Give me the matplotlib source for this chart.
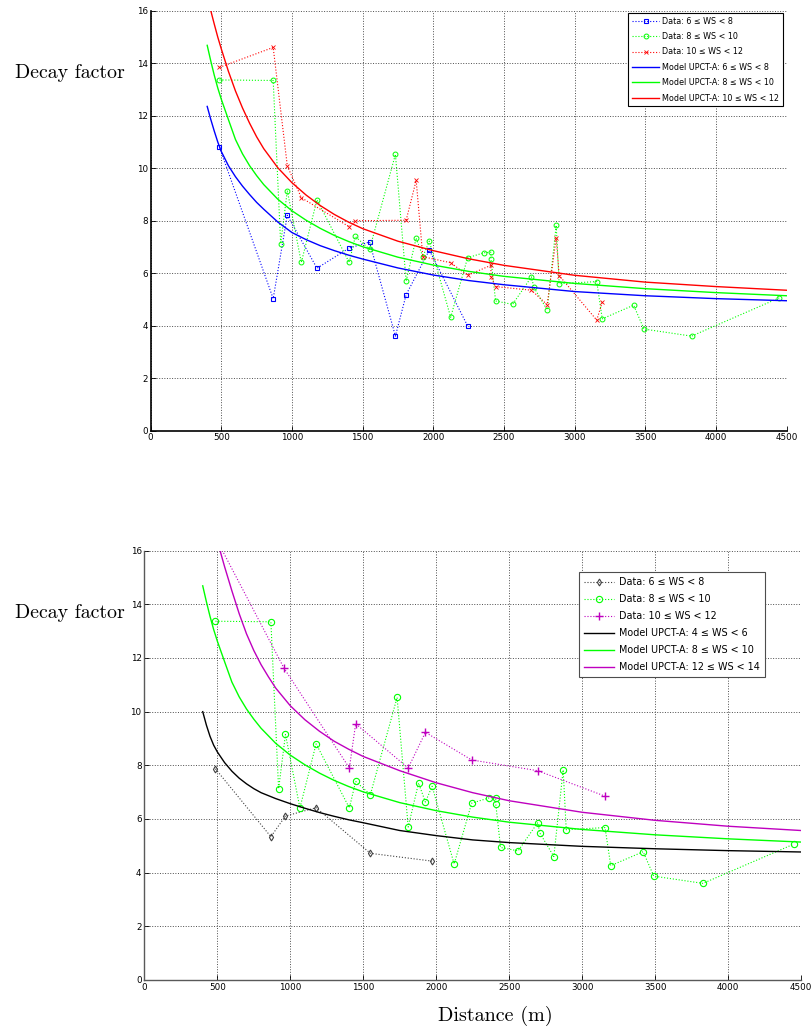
import matplotlib
matplotlib.use("Agg")
import matplotlib.pyplot as plt

# measured decay factors at each station distance (m)
dist_ws6 = [487, 867, 967, 1177, 1405, 1549, 1732, 1808, 1972, 2243]
decay_ws6 = [10.8, 5.03, 8.21, 6.19, 6.96, 7.19, 3.6, 5.18, 6.88, 3.99]

dist_ws8 = [487, 867, 920, 967, 1066, 1177, 1405, 1448, 1549, 1732, 1808, 1879, 1926,
            1972, 2123, 2243, 2359, 2408, 2408, 2441, 2561, 2695, 2712, 2806, 2870,
            2891, 3157, 3196, 3418, 3491, 3828, 4449]
decay_ws8 = [13.37, 13.35, 7.12, 9.15, 6.41, 8.8, 6.41, 7.4, 6.91, 10.53, 5.7, 7.34, 6.63,
             7.22, 4.32, 6.59, 6.78, 6.8, 6.56, 4.94, 4.81, 5.86, 5.46, 4.6, 7.83,
             5.6, 5.68, 4.26, 4.78, 3.87, 3.6, 5.06]

dist_ws10 = [487, 867, 967, 1066, 1405, 1448, 1808, 1879, 1926, 2123, 2243, 2408, 2408,
             2441, 2695, 2806, 2870, 2891, 3157, 3196]
decay_ws10 = [13.85, 14.61, 10.09, 8.88, 7.77, 8.0, 8.02, 9.54, 6.63, 6.4, 5.92, 6.3, 5.86,
              5.49, 5.35, 4.8, 7.35, 5.91, 4.21, 4.9]

# second panel data sets
dist_ws6_b = [487, 867, 967, 1177, 1549, 1972]
decay_ws6_b = [7.87, 5.34, 6.11, 6.42, 4.72, 4.43]

dist_ws10_b = [487, 957, 1405, 1448, 1808, 1926, 2243, 2695, 3157]
decay_ws10_b = [16.5, 11.62, 7.9, 9.55, 7.9, 9.23, 8.2, 7.8, 6.85]

# model UPCT-A curves
model_x = [400, 425, 450, 475, 500, 550, 600, 650, 700, 750, 800, 900, 1000, 1100, 1200,
           1300, 1400, 1500, 1750, 2000, 2250, 2500, 3000, 3500, 4000, 4500]
model_ws6 = [12.36, 11.87, 11.42, 11.0, 10.64, 10.1, 9.68, 9.32, 9.0, 8.7, 8.44, 7.95, 7.55,
             7.28, 7.05, 6.86, 6.69, 6.54, 6.2, 5.93, 5.72, 5.56, 5.3, 5.14, 5.03, 4.95]
model_ws8 = [14.69, 14.1, 13.55, 13.06, 12.63, 11.86, 11.1, 10.55, 10.1, 9.72, 9.38, 8.82,
             8.38, 8.02, 7.71, 7.44, 7.21, 7.01, 6.61, 6.31, 6.07, 5.88, 5.61, 5.41, 5.26, 5.14]
model_ws10 = [16.55, 16.02, 15.5, 15.0, 14.55, 13.7, 12.95, 12.3, 11.72, 11.2, 10.75, 10.02,
              9.45, 8.98, 8.58, 8.24, 7.95, 7.7, 7.22, 6.86, 6.55, 6.3, 5.92, 5.66, 5.49, 5.35]
model_ws4 = [10.0, 9.5, 9.08, 8.75, 8.5, 8.1, 7.78, 7.52, 7.31, 7.13, 6.98, 6.76, 6.57,
             6.4, 6.24, 6.1, 5.97, 5.86, 5.57, 5.38, 5.22, 5.12, 4.98, 4.89, 4.82, 4.77]

model_x_ws12 = [480, 500, 525, 550, 575, 600, 650, 700, 750, 800, 850, 900, 1000, 1100,
                1200, 1300, 1400, 1500, 1750, 2000, 2250, 2500, 3000, 3500, 4000, 4500]
model_ws12 = [16.8, 16.4, 15.88, 15.4, 14.95, 14.5, 13.65, 12.9, 12.28, 11.75, 11.3, 10.88,
              10.22, 9.7, 9.27, 8.9, 8.6, 8.33, 7.8, 7.35, 6.98, 6.68, 6.25, 5.95, 5.73, 5.57]

x_ticks = [0, 500, 1000, 1500, 2000, 2500, 3000, 3500, 4000, 4500]
y_ticks = [0, 2, 4, 6, 8, 10, 12, 14, 16]

labels_top = ["Data: 6 \u2264 WS < 8", "Data: 8 \u2264 WS < 10", "Data: 10 \u2264 WS < 12",
              "Model UPCT-A: 6 \u2264 WS < 8", "Model UPCT-A: 8 \u2264 WS < 10",
              "Model UPCT-A: 10 \u2264 WS < 12"]
labels_bottom = ["Data: 6 \u2264 WS < 8", "Data: 8 \u2264 WS < 10", "Data: 10 \u2264 WS < 12",
                 "Model UPCT-A: 4 \u2264 WS < 6", "Model UPCT-A: 8 \u2264 WS < 10",
                 "Model UPCT-A: 12 \u2264 WS < 14"]

GREEN = (0, 1, 0)


def style_axes(ax, spine_color, spine_width):
    ax.set_xlim(0, 4500)
    ax.set_ylim(0, 16)
    ax.set_xticks(x_ticks)
    ax.set_yticks(y_ticks)
    ax.grid(True, linestyle=":", color="0.3", linewidth=0.7)
    ax.spines["top"].set_visible(False)
    ax.spines["right"].set_visible(False)
    for side in ["left", "bottom"]:
        ax.spines[side].set_color(spine_color)
        ax.spines[side].set_linewidth(spine_width)
    ax.tick_params(direction="in", length=3.5, width=0.6, labelsize=6.3, pad=2)


fig = plt.figure(figsize=(8.11, 10.27), dpi=100)

# ---- top panel
ax1 = fig.add_axes([0.1858, 0.5808, 0.784, 0.4085])
d1, = ax1.plot(dist_ws6, decay_ws6, ":", color="b", lw=0.8, marker="s", ms=3.3,
               mfc="none", mew=0.8)
d2, = ax1.plot(dist_ws8, decay_ws8, ":", color=GREEN, lw=0.8, marker="o", ms=3.5,
               mfc="none", mew=0.7)
d3, = ax1.plot(dist_ws10, decay_ws10, ":", color="r", lw=0.8, marker="x", ms=3.3, mew=0.6)
m1, = ax1.plot(model_x, model_ws6, "-", color="b", lw=1.0)
m2, = ax1.plot(model_x, model_ws8, "-", color=GREEN, lw=1.0)
m3, = ax1.plot(model_x, model_ws10, "-", color="r", lw=1.0)
style_axes(ax1, "black", 1.2)
leg1 = ax1.legend([d1, d2, d3, m1, m2, m3], labels_top, loc="upper right",
                  bbox_to_anchor=(0.9943, 0.995), borderaxespad=0,
                  prop={"size": 5.75}, handlelength=3.4,
                  labelspacing=0.8, borderpad=0.45, handletextpad=0.4,
                  fancybox=False, framealpha=1, edgecolor="black")
leg1.get_frame().set_linewidth(0.8)

# ---- bottom panel
ax2 = fig.add_axes([0.178, 0.0458, 0.8097, 0.418])
e1, = ax2.plot(dist_ws6_b, decay_ws6_b, ":", color="0.25", lw=0.8, marker="d", ms=3.5,
               mfc="none", mew=0.8)
e2, = ax2.plot(dist_ws8, decay_ws8, ":", color=GREEN, lw=0.8, marker="o", ms=4.5,
               mfc="none", mew=0.8)
e3, = ax2.plot(dist_ws10_b, decay_ws10_b, ":", color="m", lw=0.8, marker="+", ms=5.5, mew=1.0)
n1, = ax2.plot(model_x, model_ws4, "-", color="black", lw=1.0)
n2, = ax2.plot(model_x, model_ws8, "-", color=GREEN, lw=1.0)
n3, = ax2.plot(model_x_ws12, model_ws12, "-", color="m", lw=1.0)
style_axes(ax2, "0.35", 1.0)
leg2 = ax2.legend([e1, e2, e3, n1, n2, n3], labels_bottom, loc="upper right",
                  bbox_to_anchor=(0.945, 0.951), borderaxespad=0,
                  prop={"size": 6.9}, handlelength=3.1,
                  labelspacing=0.73, borderpad=0.55, handletextpad=0.5,
                  fancybox=False, framealpha=1, edgecolor="0.3")
leg2.get_frame().set_linewidth(0.8)

fig.text(15 / 811, 1 - 73 / 1027, "Decay factor", family="cmr10", fontsize=14.3, va="center")
fig.text(15 / 811, 1 - 613 / 1027, "Decay factor", family="cmr10", fontsize=14.3, va="center")
fig.text(495 / 811, 1 - 1016 / 1027, "Distance (m)", family="cmr10", fontsize=14.5,
         ha="center", va="center")

fig.savefig("out.png", dpi=100)
